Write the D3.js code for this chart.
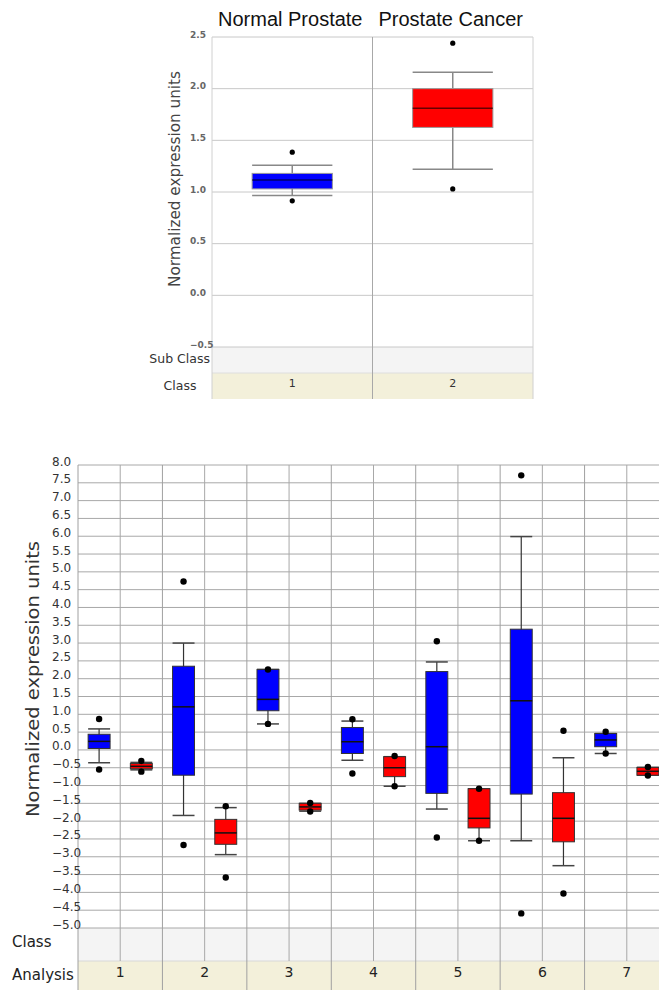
<!DOCTYPE html>
<html>
<head>
<meta charset="utf-8">
<script src="https://cdn.jsdelivr.net/npm/d3@7"></script>
<style>
  html, body { margin: 0; padding: 0; background: #fff; }
  svg { display: block; }
</style>
</head>
<body>
<svg id="chart" width="659" height="990"></svg>
<script>
// ---- Upper panel: prostate tissue comparison ----
const topGroups = ["Normal Prostate", "Prostate Cancer"];
const topClasses = ["1", "2"];
const topColors = ["#0000ff", "#ff0000"];
const topLow    = [0.965, 1.22];
const topQ1     = [1.03, 1.625];
const topMedian = [1.115, 1.81];
const topQ3     = [1.18, 2.0];
const topHigh   = [1.26, 2.16];
const topOutliers = [[1.385, 0.915], [2.44, 1.03]];
const topTicks = [-0.5, 0.0, 0.5, 1.0, 1.5, 2.0, 2.5];

// ---- Lower panel: seven analyses, normal (blue) vs cancer (red) ----
const analyses = ["1", "2", "3", "4", "5", "6", "7"];
const botColors = ["#0000ff", "#ff0000"];
// per column: analysis 1 normal, analysis 1 cancer, analysis 2 normal, ...
const botLow    = [-0.36, -0.56, -1.84, -2.94, 0.73, -1.72, -0.29, -1.02, -1.66, -2.55, -2.55, -3.25, -0.10, -0.71];
const botQ1     = [0.04, -0.53, -0.71, -2.65, 1.10, -1.69, -0.10, -0.75, -1.22, -2.19, -1.24, -2.58, 0.09, -0.71];
const botMedian = [0.24, -0.46, 1.21, -2.33, 1.42, -1.60, 0.23, -0.50, 0.09, -1.92, 1.38, -1.92, 0.28, -0.60];
const botQ3     = [0.44, -0.38, 2.35, -1.95, 2.26, -1.50, 0.63, -0.19, 2.20, -1.09, 3.39, -1.20, 0.46, -0.49];
const botHigh   = [0.59, -0.35, 3.00, -1.62, 2.26, -1.50, 0.81, -0.19, 2.47, -1.09, 5.99, -0.22, 0.46, -0.49];
const botOutliers = [
  [0.87, -0.55], [-0.31, -0.61],
  [4.73, -2.67], [-1.58, -3.58],
  [2.26, 0.73], [-1.49, -1.73],
  [0.86, -0.66], [-0.17, -1.02],
  [3.05, -2.46], [-1.09, -2.55],
  [7.71, -4.59], [0.54, -4.03],
  [0.51, -0.10], [-0.48, -0.72]
];
const botTicks = d3.range(-5, 8.01, 0.5).map(v => Math.round(v * 10) / 10);

const svg = d3.select("#chart");
const sansUI = "'DejaVu Sans', Verdana, sans-serif";

// =================== Upper panel ===================
const T = { left: 212, right: 533, top: 37, bottom: 347, subBottom: 373, classBottom: 399 };
const yTop = d3.scaleLinear().domain([-0.5, 2.5]).range([T.bottom, T.top]);
const xTop = d3.scaleBand().domain(topClasses).range([T.left, T.right]);

const gTop = svg.append("g");

// sub class / class bands
gTop.append("rect").attr("x", T.left).attr("y", T.bottom).attr("width", T.right - T.left)
  .attr("height", T.subBottom - T.bottom).attr("fill", "#f4f4f4");
gTop.append("rect").attr("x", T.left).attr("y", T.subBottom).attr("width", T.right - T.left)
  .attr("height", T.classBottom - T.subBottom).attr("fill", "#f3f0da");

// horizontal grid
gTop.selectAll("line.hg").data(topTicks).join("line")
  .attr("x1", T.left).attr("x2", T.right)
  .attr("y1", d => yTop(d)).attr("y2", d => yTop(d))
  .attr("stroke", "#c8c8c8").attr("stroke-width", 1);
gTop.append("line").attr("x1", T.left).attr("x2", T.right)
  .attr("y1", T.subBottom).attr("y2", T.subBottom).attr("stroke", "#dedede");

// vertical frame lines
[T.left, xTop("2"), T.right].forEach((x, i) => {
  gTop.append("line").attr("x1", x).attr("x2", x)
    .attr("y1", T.top).attr("y2", T.classBottom)
    .attr("stroke", i === 1 ? "#a8a8a8" : "#d0d0d0").attr("stroke-width", 1);
});

// y tick labels
const topAxis = d3.axisLeft(yTop).tickValues(topTicks).tickFormat(d3.format(".1f")).tickSize(0);
const gTopAxis = gTop.append("g").attr("transform", `translate(${T.left},0)`).call(topAxis);
gTopAxis.select(".domain").remove();
gTopAxis.selectAll("text")
  .attr("x", 190 - T.left).attr("dy", 0).attr("text-anchor", "start")
  .attr("font-family", sansUI).attr("font-size", 9).attr("font-weight", "bold").attr("fill", "#666");

// group titles
gTop.selectAll("text.title").data(topGroups).join("text")
  .attr("x", (d, i) => xTop(topClasses[i]) + xTop.bandwidth() / 2 - 2)
  .attr("y", 26).attr("text-anchor", "middle")
  .attr("font-family", "'Liberation Sans', Arial, sans-serif").attr("font-size", 20)
  .attr("fill", "#111").text(d => d);

// y axis title
gTop.append("text")
  .attr("transform", "translate(180,179) rotate(-90)")
  .attr("text-anchor", "middle").attr("font-family", sansUI).attr("font-size", 15)
  .attr("textLength", 216).attr("lengthAdjust", "spacingAndGlyphs")
  .attr("fill", "#444").text("Normalized expression units");

// band labels
gTop.append("text").attr("x", 210).attr("y", 363).attr("text-anchor", "end")
  .attr("font-family", sansUI).attr("font-size", 12.5).attr("fill", "#333").text("Sub Class");
gTop.append("text").attr("x", 180).attr("y", 390).attr("text-anchor", "middle")
  .attr("font-family", sansUI).attr("font-size", 12.5).attr("fill", "#333").text("Class");
gTop.selectAll("text.cls").data(topClasses).join("text")
  .attr("x", d => xTop(d) + xTop.bandwidth() / 2).attr("y", 387).attr("text-anchor", "middle")
  .attr("font-family", sansUI).attr("font-size", 11).attr("fill", "#333").text(d => d);

// boxes
topClasses.forEach((c, i) => {
  const cx = xTop(c) + xTop.bandwidth() / 2;
  const w = xTop.bandwidth() * 0.5;
  const g = gTop.append("g");
  g.append("line").attr("x1", cx).attr("x2", cx)
    .attr("y1", yTop(topLow[i])).attr("y2", yTop(topHigh[i]))
    .attr("stroke", "#888").attr("stroke-width", 1.5);
  [topLow[i], topHigh[i]].forEach(v => {
    g.append("line").attr("x1", cx - w / 2).attr("x2", cx + w / 2)
      .attr("y1", yTop(v)).attr("y2", yTop(v)).attr("stroke", "#888").attr("stroke-width", 1.5);
  });
  g.append("rect").attr("x", cx - w / 2).attr("width", w)
    .attr("y", yTop(topQ3[i])).attr("height", yTop(topQ1[i]) - yTop(topQ3[i]))
    .attr("fill", topColors[i]).attr("stroke", "#999").attr("stroke-width", 1);
  g.append("line").attr("x1", cx - w / 2).attr("x2", cx + w / 2)
    .attr("y1", yTop(topMedian[i])).attr("y2", yTop(topMedian[i]))
    .attr("stroke", "#000").attr("stroke-opacity", 0.6).attr("stroke-width", 1.5);
  g.selectAll("circle").data(topOutliers[i]).join("circle")
    .attr("cx", cx).attr("cy", d => yTop(d)).attr("r", 2.6).attr("fill", "#000");
});

// =================== Lower panel ===================
const B = { left: 78, right: 669, top: 465, bottom: 928, classBottom: 961, end: 990 };
const yBot = d3.scaleLinear().domain([-5, 8]).range([B.bottom, B.top]);
const colKeys = d3.range(botMedian.length);
const xCol = d3.scaleBand().domain(colKeys).range([B.left, B.right]);
const xAn = d3.scaleBand().domain(analyses).range([B.left, B.right]);

const gBot = svg.append("g");

gBot.append("rect").attr("x", B.left).attr("y", B.bottom).attr("width", B.right - B.left)
  .attr("height", B.classBottom - B.bottom).attr("fill", "#f4f4f4");
gBot.append("rect").attr("x", B.left).attr("y", B.classBottom).attr("width", B.right - B.left)
  .attr("height", B.end - B.classBottom).attr("fill", "#f3f0da");

// horizontal grid
gBot.selectAll("line.hg").data(botTicks).join("line")
  .attr("x1", B.left).attr("x2", B.right)
  .attr("y1", d => yBot(d)).attr("y2", d => yBot(d))
  .attr("stroke", "#a8a8a8").attr("stroke-width", 1);
gBot.append("line").attr("x1", B.left).attr("x2", B.right)
  .attr("y1", B.classBottom).attr("y2", B.classBottom).attr("stroke", "#d8d8d8");

// vertical grid: column splits stop at class band, analysis splits run to bottom
colKeys.forEach(k => {
  const x = xCol(k);
  const isAnalysisEdge = k % 2 === 0;
  gBot.append("line").attr("x1", x).attr("x2", x)
    .attr("y1", B.top).attr("y2", isAnalysisEdge ? B.end : B.classBottom)
    .attr("stroke", isAnalysisEdge ? "#a0a0a0" : "#a8a8a8").attr("stroke-width", 1);
});

// y tick labels
const botAxis = d3.axisLeft(yBot).tickValues(botTicks).tickFormat(d3.format(".1f")).tickSize(0);
const gBotAxis = gBot.append("g").attr("transform", `translate(${B.left},0)`).call(botAxis);
gBotAxis.select(".domain").remove();
gBotAxis.selectAll("text")
  .attr("x", 52 - B.left).attr("dy", 0).attr("text-anchor", "start")
  .attr("font-family", sansUI).attr("font-size", 12).attr("fill", "#333");

// y axis title
gBot.append("text")
  .attr("transform", "translate(39,679) rotate(-90)")
  .attr("text-anchor", "middle").attr("font-family", sansUI).attr("font-size", 18)
  .attr("textLength", 276).attr("lengthAdjust", "spacingAndGlyphs")
  .attr("fill", "#333").text("Normalized expression units");

// band labels
gBot.append("text").attr("x", 12).attr("y", 947)
  .attr("font-family", sansUI).attr("font-size", 15).attr("fill", "#222").text("Class");
gBot.append("text").attr("x", 12).attr("y", 980)
  .attr("font-family", sansUI).attr("font-size", 15).attr("fill", "#222").text("Analysis");
gBot.selectAll("text.an").data(analyses).join("text")
  .attr("x", d => xAn(d) + xAn.bandwidth() / 2).attr("y", 977).attr("text-anchor", "middle")
  .attr("font-family", sansUI).attr("font-size", 14).attr("fill", "#222").text(d => d);

// boxes
colKeys.forEach(k => {
  const cx = xCol(k) + xCol.bandwidth() / 2;
  const w = xCol.bandwidth() * 0.52;
  const color = botColors[k % 2];
  const g = gBot.append("g");
  g.append("line").attr("x1", cx).attr("x2", cx)
    .attr("y1", yBot(botLow[k])).attr("y2", yBot(botHigh[k]))
    .attr("stroke", "#333").attr("stroke-width", 1.2);
  [botLow[k], botHigh[k]].forEach(v => {
    g.append("line").attr("x1", cx - w / 2).attr("x2", cx + w / 2)
      .attr("y1", yBot(v)).attr("y2", yBot(v)).attr("stroke", "#444").attr("stroke-width", 1.5);
  });
  g.append("rect").attr("x", cx - w / 2).attr("width", w)
    .attr("y", yBot(botQ3[k])).attr("height", yBot(botQ1[k]) - yBot(botQ3[k]))
    .attr("fill", color).attr("stroke", "#333").attr("stroke-width", 1);
  g.append("line").attr("x1", cx - w / 2).attr("x2", cx + w / 2)
    .attr("y1", yBot(botMedian[k])).attr("y2", yBot(botMedian[k]))
    .attr("stroke", "#111").attr("stroke-width", 1.5);
  g.selectAll("circle").data(botOutliers[k]).join("circle")
    .attr("cx", cx).attr("cy", d => yBot(d)).attr("r", 3.2).attr("fill", "#000");
});
</script>
</body>
</html>
